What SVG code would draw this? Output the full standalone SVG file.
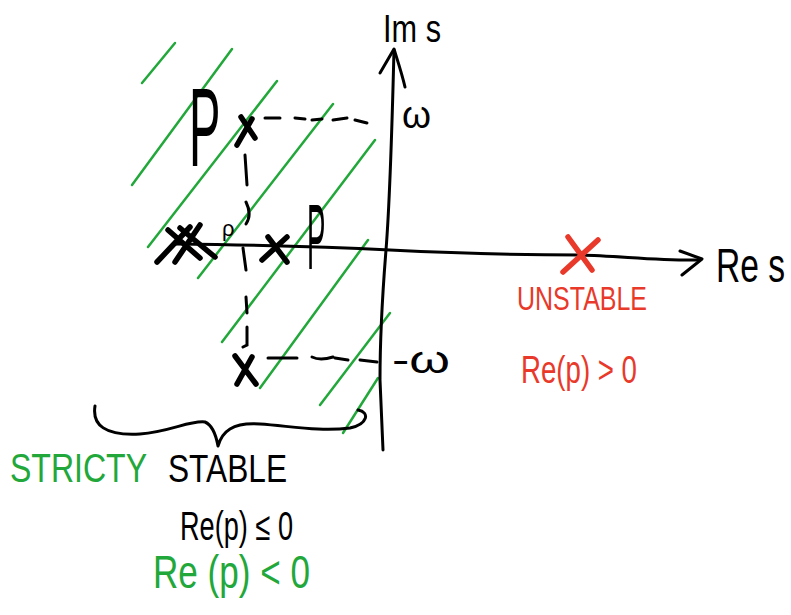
<svg xmlns="http://www.w3.org/2000/svg" width="791" height="615" viewBox="0 0 791 615">
<style>
.bg{fill:#ffffff}
.ink{fill:none;stroke:#000;stroke-width:3;stroke-linecap:round;stroke-linejoin:round}
.dash{fill:none;stroke:#000;stroke-width:3;stroke-linecap:round}
.hatch{fill:none;stroke:#22a83a;stroke-width:2.5;stroke-linecap:round}
.pole{fill:none;stroke:#000;stroke-width:5.5;stroke-linecap:round}
.rpole{fill:none;stroke:#e8392a;stroke-width:5.5;stroke-linecap:round}
.t{font-family:"Liberation Sans","DejaVu Sans",sans-serif;fill:#000}
.g{fill:#22a83a}
.r{fill:#e8392a}
</style>
<rect class="bg" x="0" y="0" width="791" height="615"/>
<g id="hatching">
<path class="hatch" d="M142,83 L175,43"/>
<path class="hatch" d="M132,185 L232,49"/>
<path class="hatch" d="M148,247 L277,81"/>
<path class="hatch" d="M198,278 L333,104"/>
<path class="hatch" d="M222,342 L375,140"/>
<path class="hatch" d="M260,388 L368,240"/>
<path class="hatch" d="M320,405 L390,313"/>
<path class="hatch" d="M343,433 L378,378"/>
</g>
<g id="axes">
<path class="ink" d="M175,244 C260,245 330,247 390,250 C450,253 520,255 580,255 C620,256 660,261 700,260"/>
<path class="ink" d="M680,251 L702,259 L682,275"/>
<path class="ink" d="M394,50 C393,90 390,200 386,250 S380,340 380,380 L383,450"/>
<path class="ink" d="M380,73 L394,49 C398,62 402,74 405,87"/>
</g>
<g id="dashes">
<path class="dash" d="M265,118 L280,118 M295,118 L305,119 M312,120 L322,119 M333,120 L347,118 M355,120 L367,123"/>
<path class="dash" d="M268,358 L297,358 M312,357 Q320,361 333,357 M335,358 L348,360 M360,360 L377,362"/>
<path class="dash" d="M245,155 L247,185 M246,202 C250,210 250,218 246,224 M243,248 L246,270 M246,297 L247,313 M247,327 L247,345 L243,347"/>
</g>
<g id="poles">
<path class="pole" d="M241,117 L255,138 M237,145 L252,119"/>
<path class="pole" d="M235,356 L256,384 M252,357 L237,384"/>
<path class="pole" d="M268,237 L287,262 M262,260 L287,237"/>
<path class="pole" d="M168,230 L200,258 M180,228 L215,257 M157,262 L190,227 M175,262 L200,225"/>
<path class="rpole" d="M568,237 L592,270 M598,240 L563,272"/>
</g>
<g id="brace">
<path class="ink" d="M95,406 C92,425 105,436 140,434 C170,432 190,420 205,422 C212,425 216,435 218,446 C222,432 232,422 260,424 C290,426 320,432 350,428 C368,424 370,412 358,410"/>
</g>
<g id="labels">
<text class="t" x="383" y="42" font-size="38" textLength="58" lengthAdjust="spacingAndGlyphs">Im s</text>
<text class="t" font-size="40" transform="translate(716,282) scale(0.84,1.18)">Re s</text>
<text class="t" x="402" y="128" font-size="38" textLength="29" lengthAdjust="spacingAndGlyphs">ω</text>
<text class="t" x="392" y="373" font-size="38" textLength="58" lengthAdjust="spacingAndGlyphs">-ω</text>
<text class="t" font-size="112" transform="translate(189,166) scale(0.42,1)">P</text>
<text class="t" font-size="92" transform="translate(307,269) scale(0.3,1)">P</text>
<text class="t" x="222" y="236" font-size="22">ρ</text>
<text class="t g" x="10" y="482" font-size="40" textLength="137" lengthAdjust="spacingAndGlyphs">STRICTY</text>
<text class="t" x="168" y="482" font-size="38" textLength="119" lengthAdjust="spacingAndGlyphs">STABLE</text>
<text class="t" x="180" y="540" font-size="40" textLength="113" lengthAdjust="spacingAndGlyphs">Re(p) ≤ 0</text>
<text class="t g" x="153" y="588" font-size="46" textLength="157" lengthAdjust="spacingAndGlyphs">Re (p) &lt; 0</text>
<text class="t r" x="517" y="310" font-size="34" textLength="130" lengthAdjust="spacingAndGlyphs">UNSTABLE</text>
<text class="t r" x="521" y="383" font-size="38" textLength="116" lengthAdjust="spacingAndGlyphs">Re(p) &gt; 0</text>
</g>
</svg>
